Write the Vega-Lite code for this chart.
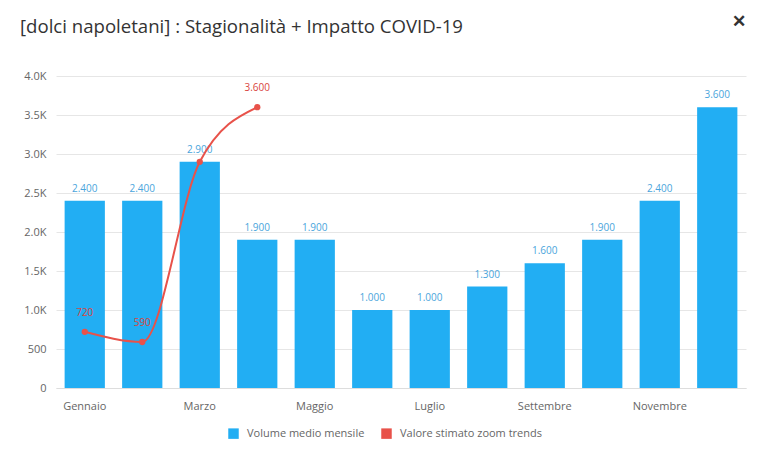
{
  "$schema": "https://vega.github.io/schema/vega-lite/v6.json",
  "width": 690,
  "height": 312,
  "autosize": {"type": "none"},
  "padding": {"left": 56, "top": 76, "right": 21, "bottom": 83},
  "background": "white",
  "title": {
    "text": "[dolci napoletani] : Stagionalità + Impatto COVID-19",
    "anchor": "start",
    "frame": "group",
    "dx": -36,
    "offset": -24,
    "font": "Open Sans",
    "fontSize": 18.6,
    "fontWeight": "normal",
    "color": "#333333"
  },
  "config": {
    "font": "Open Sans",
    "view": {"stroke": null},
    "axis": {"labelFont": "Open Sans", "labelColor": "#666666", "labelFontSize": 11},
    "axisY": {
      "title": null,
      "values": [0,500,1000,1500,2000,2500,3000,3500,4000],
      "labelOverlap": false,
      "labelExpr": "datum.value >= 1000 ? format(datum.value/1000, '.1f') + 'K' : datum.value",
      "domain": false,
      "ticks": false,
      "labelPadding": 10,
      "gridColor": "#e6e6e6"
    }
  },
  "datasets": {
    "bars": [
      {"mese": "Gennaio", "volume": 2400},
      {"mese": "Febbraio", "volume": 2400},
      {"mese": "Marzo", "volume": 2900},
      {"mese": "Aprile", "volume": 1900},
      {"mese": "Maggio", "volume": 1900},
      {"mese": "Giugno", "volume": 1000},
      {"mese": "Luglio", "volume": 1000},
      {"mese": "Agosto", "volume": 1300},
      {"mese": "Settembre", "volume": 1600},
      {"mese": "Ottobre", "volume": 1900},
      {"mese": "Novembre", "volume": 2400},
      {"mese": "Dicembre", "volume": 3600}
    ],
    "trend": [
      {"mese": "Gennaio", "valore": 720},
      {"mese": "Febbraio", "valore": 590},
      {"mese": "Marzo", "valore": 2900},
      {"mese": "Aprile", "valore": 3600}
    ]
  },
  "encoding": {
    "x": {
      "field": "mese",
      "type": "nominal",
      "sort": null,
      "scale": {"domain": ["Gennaio","Febbraio","Marzo","Aprile","Maggio","Giugno","Luglio","Agosto","Settembre","Ottobre","Novembre","Dicembre"], "paddingInner": 0.3, "paddingOuter": 0.15},
      "axis": {
        "title": null,
        "labelAngle": 0,
        "values": ["Gennaio","Marzo","Maggio","Luglio","Settembre","Novembre"],
        "ticks": false,
        "domainColor": "#dddddd",
        "labelPadding": 12,
        "grid": false
      }
    }
  },
  "layer": [
    {
      "data": {"name": "bars"},
      "mark": {"type": "bar", "color": "#22aef3"},
      "encoding": {
        "y": {
          "field": "volume",
          "type": "quantitative",
          "title": null,
          "scale": {"domain": [0, 4000]},
          "axis": {"values": [0,500,1000,1500,2000,2500,3000,3500,4000]}
        },
        "color": {"datum": "Volume medio mensile", "type": "nominal",
          "scale": {"domain": ["Volume medio mensile", "Valore stimato zoom trends"], "range": ["#22aef3", "#e8524a"]},
          "legend": {
            "title": null,
            "orient": "none",
            "direction": "horizontal",
            "legendX": 172,
            "legendY": 352,
            "symbolType": "square",
            "symbolSize": 110,
            "symbolStrokeWidth": 0,
            "labelFont": "Open Sans",
            "labelFontSize": 11,
            "labelColor": "#666666",
            "columnPadding": 16,
            "labelOffset": 8
          }
        }
      }
    },
    {
      "data": {"name": "bars"},
      "mark": {"type": "text", "dy": -12, "fontSize": 10, "color": "#4aa5dc", "text": {"expr": "replace(format(datum.volume, ','), ',', '.')"}},
      "encoding": {
        "y": {"field": "volume", "type": "quantitative", "title": null, "axis": {"values": [0,500,1000,1500,2000,2500,3000,3500,4000]}}
      }
    },
    {
      "data": {"name": "trend"},
      "mark": {"type": "line", "interpolate": "monotone", "color": "#e8524a", "strokeWidth": 2, "point": {"filled": true, "size": 40, "color": "#e8524a"}},
      "encoding": {
        "y": {"field": "valore", "type": "quantitative", "title": null, "axis": {"values": [0,500,1000,1500,2000,2500,3000,3500,4000]}},
        "color": {"datum": "Valore stimato zoom trends", "type": "nominal"}
      }
    },
    {
      "data": {"name": "trend"},
      "transform": [{"filter": "datum.mese != 'Marzo'"}],
      "mark": {"type": "text", "dy": -19, "fontSize": 10, "color": "#d9453d", "text": {"expr": "replace(format(datum.valore, ','), ',', '.')"}},
      "encoding": {
        "y": {"field": "valore", "type": "quantitative", "title": null, "axis": {"values": [0,500,1000,1500,2000,2500,3000,3500,4000]}}
      }
    },
    {
      "data": {"values": [{"mese": "Dicembre", "y": 4000}]},
      "mark": {"type": "text", "text": "✕", "fontSize": 17, "fontWeight": "bold", "color": "#333333", "xOffset": 22, "yOffset": -54},
      "encoding": {
        "y": {"field": "y", "type": "quantitative", "title": null, "axis": {"values": [0,500,1000,1500,2000,2500,3000,3500,4000]}}
      }
    }
  ]
}
